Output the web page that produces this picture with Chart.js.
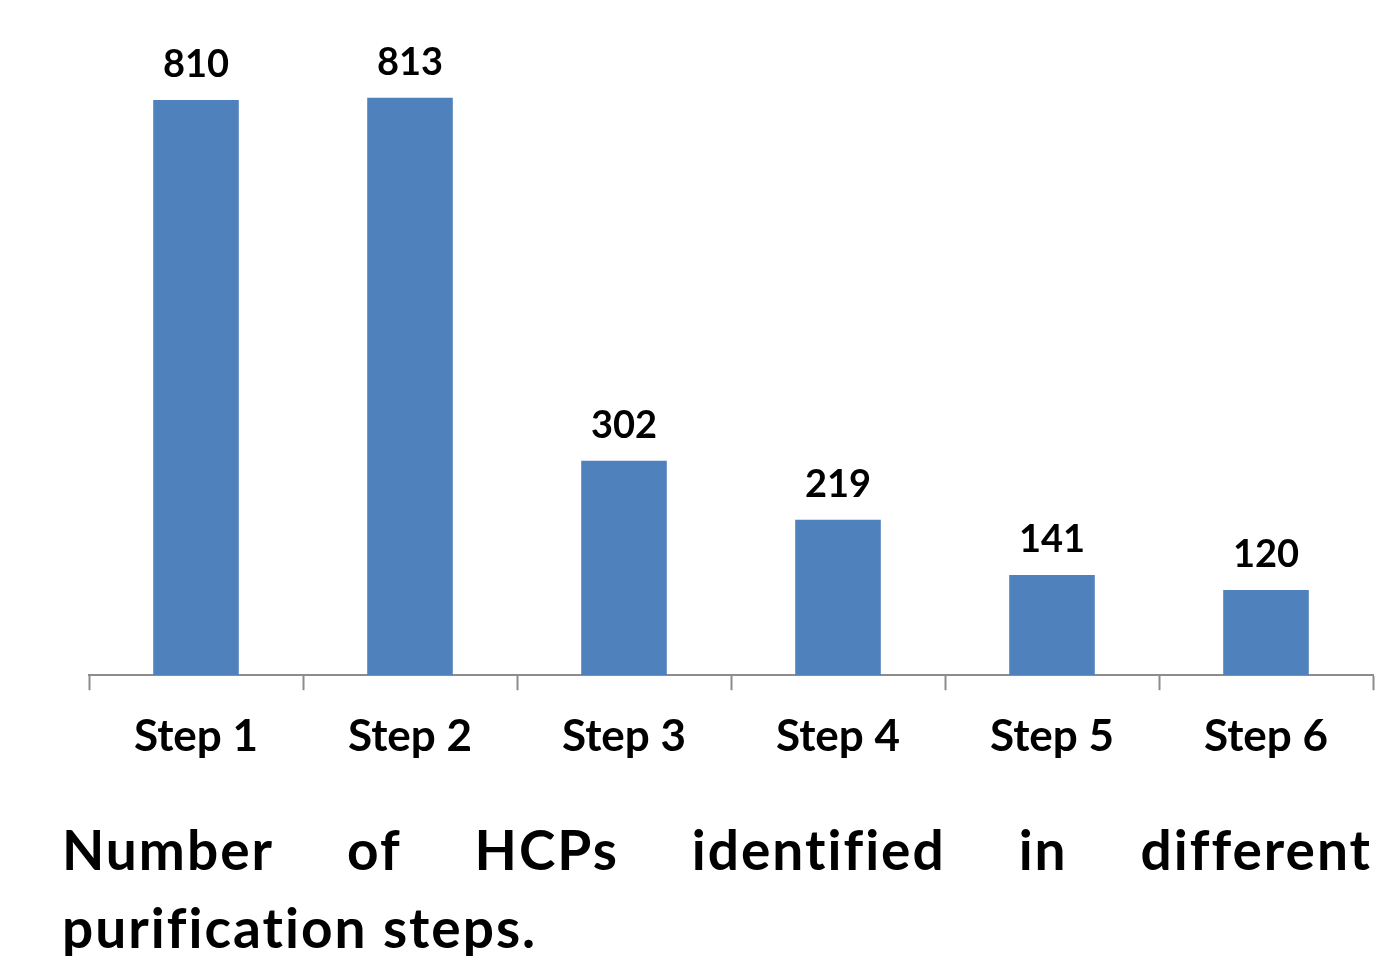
<!DOCTYPE html>
<html>
<head>
<meta charset="utf-8">
<script src="https://cdn.jsdelivr.net/npm/chart.js@4.4.1/dist/chart.umd.min.js"></script>
<style>
  html, body { margin: 0; padding: 0; background: #ffffff; overflow: hidden; }
  body { width: 1388px; height: 956px; position: relative; font-family: Lato, "Open Sans", sans-serif; }
  #wrap { position: absolute; left: 0; top: 0; width: 1388px; height: 783px; }
  .caption { position: absolute; left: 62px; width: 1310px; font-weight: 700; font-size: 55px; line-height: 78px; letter-spacing: 2px; color: #000; white-space: nowrap; font-variant-ligatures: none; }
  #cap1 { top: 810px; display: flex; justify-content: space-between; }
  #cap2 { top: 888px; }
</style>
</head>
<body>
<div id="wrap"><canvas id="chart"></canvas></div>
<div class="caption" id="cap1"><span>Number</span><span>of</span><span>HCPs</span><span>identified</span><span>in</span><span>different</span></div>
<div class="caption" id="cap2">purification steps.</div>
<script>
// Purification steps and the number of host cell proteins found at each
const steps = ["Step 1", "Step 2", "Step 3", "Step 4", "Step 5", "Step 6"];
const hcpCounts = [810, 813, 302, 219, 141, 120];
const yMin = 0;
const yMax = 900;

// Writes each bar's value just above it
const valueLabels = {
  id: 'valueLabels',
  afterDatasetsDraw(chart) {
    const ctx = chart.ctx;
    const meta = chart.getDatasetMeta(0);
    ctx.save();
    ctx.font = 'bold 38px Lato, "Open Sans", sans-serif';
    ctx.fillStyle = '#000000';
    ctx.textAlign = 'center';
    ctx.textBaseline = 'alphabetic';
    meta.data.forEach((bar, i) => {
      ctx.fillText(String(chart.data.datasets[0].data[i]), bar.x, bar.y - 23);
    });
    ctx.restore();
  }
};

new Chart(document.getElementById('chart'), {
  type: 'bar',
  data: {
    labels: steps,
    datasets: [{
      data: hcpCounts,
      backgroundColor: '#4F81BD',
      borderWidth: 0,
      categoryPercentage: 1.0,
      barPercentage: 0.4
    }]
  },
  options: {
    responsive: true,
    maintainAspectRatio: false,
    animation: false,
    layout: { padding: { left: 89, right: 15, top: 36, bottom: 0 } },
    plugins: {
      legend: { display: false },
      tooltip: { enabled: false },
      title: { display: false }
    },
    scales: {
      x: {
        offset: true,
        border: { display: true, color: '#8C8C8C', width: 2 },
        grid: {
          offset: true,
          drawOnChartArea: false,
          drawTicks: true,
          tickLength: 15,
          tickWidth: 2,
          color: '#8C8C8C'
        },
        ticks: {
          color: '#000000',
          padding: 20,
          maxRotation: 0,
          font: { family: 'Lato, "Open Sans", sans-serif', size: 44, weight: 'bold' }
        }
      },
      y: {
        display: false,
        min: yMin,
        max: yMax
      }
    }
  },
  plugins: [valueLabels]
});
</script>
</body>
</html>
